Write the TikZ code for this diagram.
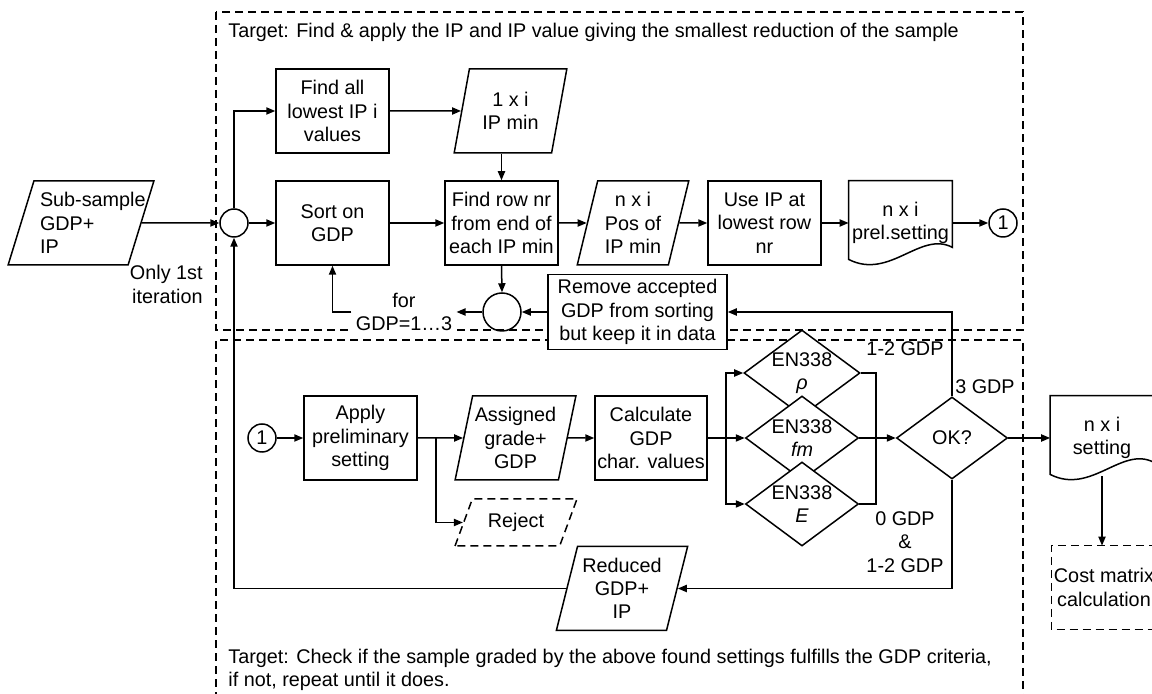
\documentclass[tikz,border=0pt]{standalone}
\usepackage{fontspec}
\setmainfont{Liberation Sans}
\usetikzlibrary{calc,arrows.meta,shapes.geometric,positioning}
\newcommand{\docoutline}[1]{%
  \draw[flow] (#1.north west) -- (#1.north east) -- ($(#1.south east)+(0,-18)$)
    .. controls ($(#1.south east)+(-32,-35)$) and ($(#1.south west)+(41,15)$) .. ($(#1.south west)+(0,-6)$) -- cycle;}

\begin{document}
\begin{tikzpicture}[x=0.5pt,y=-0.5pt,
  font=\fontsize{9.9}{11.6}\selectfont,
  >={Triangle[length=4.5pt,width=3.6pt]},
  flow/.style={line width=0.75pt},
  region/.style={dash pattern=on 4pt off 2.5pt,line width=0.6pt},
  proc/.style={draw,flow,rectangle,fill=white,inner sep=1pt,align=center,minimum width=56.5pt,minimum height=42pt},
  datain/.style={draw,flow,trapezium,trapezium left angle=75,trapezium right angle=105,trapezium stretches=true,inner sep=1pt,align=center,minimum height=42pt},
  decide/.style={draw,flow,diamond,fill=white,inner sep=0pt,shape aspect=1.35,align=center,minimum width=56.5pt,minimum height=42pt},
  junct/.style={draw,flow,circle,inner sep=0pt,minimum size=14pt},
  docbox/.style={rectangle,inner sep=1pt,align=center,minimum width=51.5pt,minimum height=42pt},
  note/.style={inner sep=0pt}]
  \useasboundingbox (0,0) rectangle (1152,694);
  % dashed regions
  \draw[region] (216,12) rectangle (1023,330);
  \draw[region] (216,700) -- (216,340) -- (1023,340) -- (1023,700);
  \node[note,anchor=west] (toptarget) at (228,32) {Target: Find \& apply the IP and IP value giving the smallest reduction of the sample};
  \node[note,anchor=west,align=left] (bottarget) at (228,669.5) {Target: Check if the sample graded by the above found settings fulfills the GDP criteria,\\if not, repeat until it does.};
  % upper loop
  \node[datain,trapezium left angle=70,trapezium right angle=110,minimum width=73pt,text width=41pt,align=left] (sub) at (81,223) {\mbox{Sub-sample}\\GDP+\\IP};
  \node[note,anchor=east,align=right] (firstonly) at (203,284.5) {Only 1st\\iteration};
  \node[junct] (jn) at (234,223) {};
  \node[proc] (findall) at (332.5,111) {Find all\\lowest IP i\\values};
  \node[proc] (sort) at (332.5,223) {Sort on\\GDP};
  \node[datain,minimum width=56.5pt] (ipmin) at (510.5,111) {1 x i\\IP min};
  \node[proc] (findrow) at (501.5,223) {Find row nr\\from end of\\each IP min};
  \node[datain,minimum width=56pt] (pos) at (633,223) {n x i\\Pos of\\IP min};
  \node[proc] (useip) at (764.5,223) {Use IP at\\lowest row\\nr};
  \node[docbox] (prel) at (900.5,223) {n x i\\prel.setting};
  \docoutline{prel}
  \node[junct] (goa) at (1003,223) {1};
  \node[junct,minimum size=19pt] (loop) at (502,312) {};
  \node[note,fill=white,inner xsep=2pt,align=center] (forgdp) at (404,312) {for\\GDP=1…3};
  \node[proc,minimum width=89.5pt,minimum height=37.5pt] (remove) at (637.5,312) {Remove accepted\\GDP from sorting\\but keep it in data};
  % lower loop
  \node[junct] (gob) at (262,438) {1};
  \node[proc] (apply) at (360.5,438) {Apply\\preliminary\\setting};
  \node[datain,minimum width=60.5pt] (assign) at (515.5,438) {Assigned\\grade+\\GDP};
  \node[datain,dash pattern=on 4pt off 2.5pt,trapezium left angle=62,trapezium right angle=118,minimum width=61pt,minimum height=23.5pt] (reject) at (516,522.5) {Reject};
  \node[proc,minimum width=56pt] (calc) at (651,438) {Calculate\\GDP\\char. values};
  \node[decide] (rho) at (802,373) {EN338\\\textit{ρ}};
  \node[decide] (fm) at (802,438) {EN338\\\textit{fm}};
  \node[decide] (en) at (802,504) {EN338\\\textit{E}};
  \node[decide,minimum width=55.5pt,minimum height=41pt] (ok) at (952,438) {OK?};
  \node[datain,trapezium left angle=73,trapezium right angle=107,minimum width=66pt] (reduced) at (622,588.5) {Reduced\\GDP+\\IP};
  \node[docbox] (setting) at (1102,438) {n x i\\setting};
  \docoutline{setting}
  \node[docbox,minimum width=52.5pt,minimum height=41.5pt] (cost) at (1104,587.5) {Cost matrix\\calculation};
  \draw[region] (cost.north east) -- (cost.north west) -- (cost.south west) -- (cost.south east);
  \node[note] (lbla) at (905,349) {1-2 GDP};
  \node[note] (lblb) at (985,387) {3 GDP};
  \node[note,align=center] (lblc) at (905,542) {0 GDP\\\&\\1-2 GDP};
  % connectors
  \coordinate (splitrej) at (436,438);
  \coordinate (splitl) at (726,438);
  \coordinate (splitr) at (876,438);
  \draw[flow,->] (sub.east) -- (jn.west);
  \draw[flow,->] (jn.north) |- (findall.west);
  \draw[flow,->] (jn.east) -- (sort.west);
  \draw[flow,->] (findall.east) -- (ipmin.west);
  \draw[flow,->] (ipmin.south -| findrow.north) -- (findrow.north);
  \draw[flow,->] (sort.east) -- (findrow.west);
  \draw[flow,->] (findrow.east) -- (pos.west);
  \draw[flow,->] (pos.east) -- (useip.west);
  \draw[flow,->] (useip.east) -- (prel.west);
  \draw[flow,->] (prel.east) -- (goa.west);
  \draw[flow,->] (findrow.south) -- (loop.north);
  \draw[flow,->] (remove.west) -- (loop.east);
  \draw[flow,->] (loop.west) -- (forgdp.east);
  \draw[flow,->] (forgdp.west) -| (sort.south);
  \draw[flow,->] (gob.east) -- (apply.west);
  \draw[flow,->] (apply.east) -- (assign.west);
  \draw[flow,->] (splitrej) |- (reject.west);
  \draw[flow,->] (assign.east) -- (calc.west);
  \draw[flow] (calc.east) -- (splitl);
  \draw[flow,->] (splitl) |- (rho.west);
  \draw[flow,->] (splitl) -- (fm.west);
  \draw[flow,->] (splitl) |- (en.west);
  \draw[flow] (rho.east) -| (splitr);
  \draw[flow] (en.east) -| (splitr);
  \draw[flow,->] (fm.east) -- (ok.west);
  \draw[flow,->] (ok.north) |- (remove.east);
  \draw[flow,->] (ok.east) -- (setting.west);
  \draw[flow,->] ($(setting.south)+(0,-4)$) -- (setting.south |- cost.north);
  \draw[flow,->] (ok.south) |- (reduced.east);
  \draw[flow,->] (reduced.west) -| (jn.south);
\end{tikzpicture}
\end{document}
